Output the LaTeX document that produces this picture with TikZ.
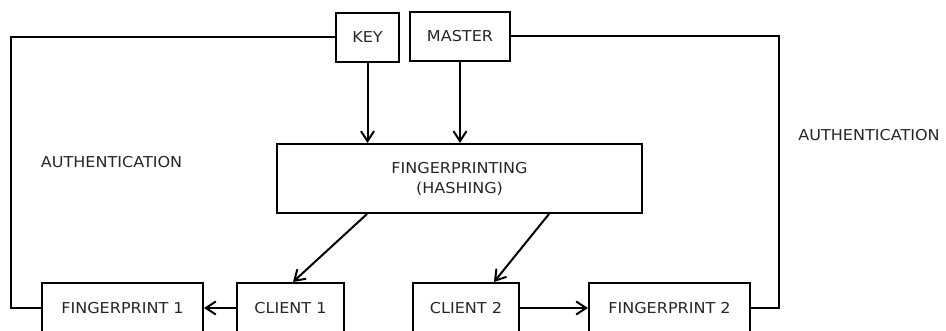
\documentclass[tikz,border=0pt]{standalone}
\usepackage{fontspec}
\setmainfont{DejaVu Sans}[FakeStretch=1.07]
\usetikzlibrary{arrows.meta}
\begin{document}
\begin{tikzpicture}[x=1pt,y=-1pt,
  box/.style={draw=black,line width=2pt,inner sep=0pt,text=black!85,font=\fontsize{15}{20}\selectfont},
  lbl/.style={inner sep=0pt,text=black!85,font=\fontsize{15}{20}\selectfont},
  conn/.style={line width=2pt,draw=black},
  arr/.style={conn,-{Straight Barb[length=10pt,width=13pt,line width=2pt]}}]
\useasboundingbox (0,0) rectangle (946,331);
\clip (0,0) rectangle (946,331);
\node[box,minimum width=63pt,minimum height=49pt] (key) at (367.5,37.5) {KEY};
\node[box,minimum width=100pt,minimum height=49pt] (master) at (460,36.5) {MASTER};
\node[box,minimum width=365pt,minimum height=69pt,align=center] (fp) at (459.5,178.5) {FINGERPRINTING\\(HASHING)};
\node[box,minimum width=161pt,minimum height=50pt] (fp1) at (122.5,308) {FINGERPRINT 1};
\node[box,minimum width=107pt,minimum height=50pt] (c1) at (290.5,308) {CLIENT 1};
\node[box,minimum width=106pt,minimum height=50pt] (c2) at (466,308) {CLIENT 2};
\node[box,minimum width=161pt,minimum height=50pt] (fp2) at (669.5,308) {FINGERPRINT 2};
\node[lbl] (authl) at (111.5,162.5) {AUTHENTICATION};
\node[lbl] (authr) at (869,135) {AUTHENTICATION};
\draw[arr] (key.south) -- (key.south |- fp.north);
\draw[arr] (master.south) -- (master.south |- fp.north);
\draw[arr] ([xshift=-92.5pt]fp.south) -- ([xshift=2.5pt]c1.north);
\draw[arr] ([xshift=89.5pt]fp.south) -- ([xshift=28pt]c2.north);
\draw[arr] (c1.west) -- (fp1.east);
\draw[arr] (c2.east) -- (fp2.west);
\draw[conn] (key.west) -| ([xshift=-30pt]fp1.west) -- (fp1.west);
\draw[conn] (master.east) -| ([xshift=28pt]fp2.east) -- (fp2.east);
\end{tikzpicture}
\end{document}
